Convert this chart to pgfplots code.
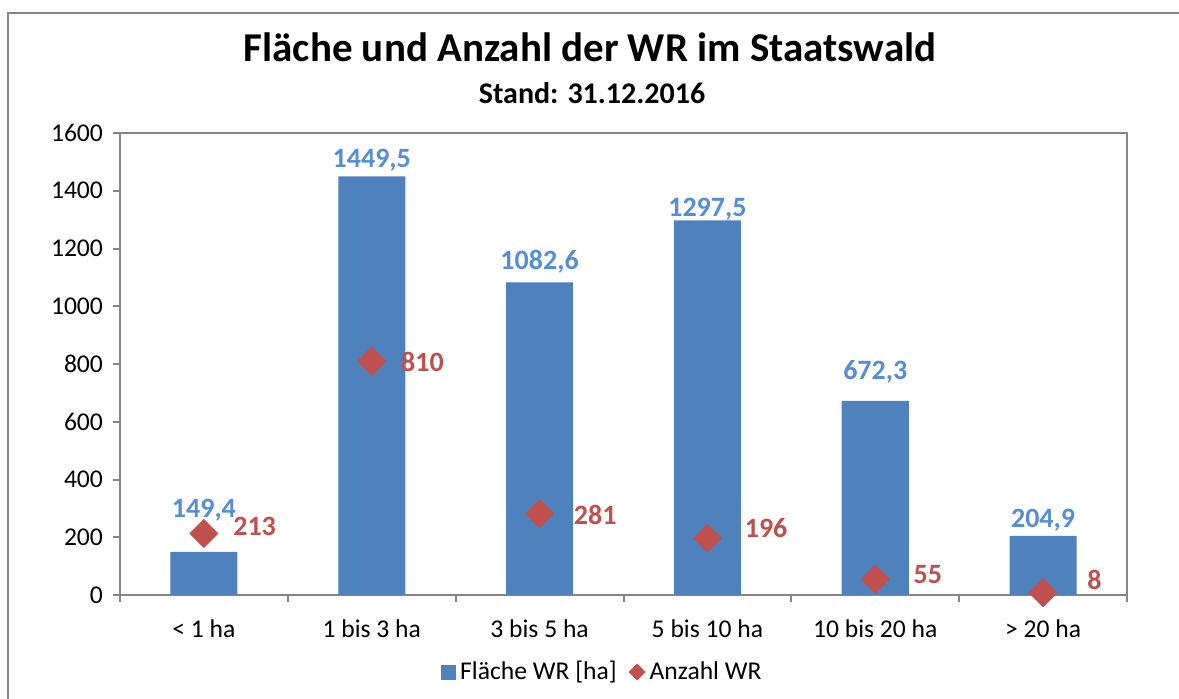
\documentclass[border=0pt]{standalone}
\usepackage{pgfplots}
\pgfplotsset{compat=1.18}
\usepackage{pgfplotstable}
\usepackage{fontspec}
\setmainfont{Carlito}
\definecolor{barblue}{HTML}{4F81BD}
\definecolor{labblue}{HTML}{558ED5}
\definecolor{diared}{HTML}{C0504D}
\definecolor{axgray}{HTML}{868686}
\pgfplotstableread{
x area arealab ady count cdx cdy
0 149.4 149,4 17 213 14.5 -1
1 1449.5 1449,5 4.5 810 14.5 -5
2 1082.6 1082,6 6.5 281 17 -5.5
3 1297.5 1297,5 2 196 18.5 0.5
4 672.3 672,3 10.5 55 19 -2
5 204.9 204,9 4 8 22 1.5
}\datatable
\begin{document}
\begin{tikzpicture}
\useasboundingbox (0,0) rectangle (589.5pt,349pt);
\begin{scope}
\clip (0,0) rectangle (589.5pt,349pt);
\draw[axgray, line width=1pt] (4pt,-20pt) rectangle (640pt,342.5pt);
\end{scope}
\node[anchor=base, inner sep=0pt, font=\fontsize{20.5}{24}\selectfont\bfseries] at (295pt,318pt) {Fläche und Anzahl der WR im Staatswald};
\node[anchor=base, inner sep=0pt, font=\fontsize{15}{18}\selectfont\bfseries] at (296pt,297.5pt) {Stand: 31.12.2016};
\begin{axis}[
  at={(60pt,51.5pt)}, anchor=south west, scale only axis,
  width=503.5pt, height=231pt,
  xmin=-0.5, xmax=5.5, ymin=0, ymax=1600,
  ytick={0,200,400,600,800,1000,1200,1400,1600},
  yticklabels={0,200,400,600,800,1000,1200,1400,1600},
  xtick={-0.5,0.5,1.5,2.5,3.5,4.5,5.5},
  x tick label as interval,
  xticklabels={{< 1 ha},{1 bis 3 ha},{3 bis 5 ha},{5 bis 10 ha},{10 bis 20 ha},{> 20 ha}},
  tick align=outside,
  tick pos=left,
  major tick length=3.5pt,
  tick style={axgray, line width=1pt},
  axis line style={axgray, line width=1pt},
  ticklabel style={font=\fontsize{12.8}{15}\selectfont},
  xticklabel style={yshift=-5.5pt},
  yticklabel style={xshift=-1.5pt},
  clip=false,
  legend columns=2,
  legend style={at={(axis description cs:0.48,-0.1667)}, anchor=center, draw=none, fill=none,
    font=\fontsize{12.8}{15}\selectfont, /tikz/every even column/.append style={column sep=4pt}},
]
\addplot[ybar, bar width=33.5pt, fill=barblue, draw=none,
  nodes near coords, point meta=explicit symbolic,
  visualization depends on={\thisrow{ady} \as \ady},
  nodes near coords style={anchor=base, yshift=\ady*1pt, text=labblue, font=\fontsize{14}{16}\selectfont\bfseries, inner sep=0pt},
  legend image code/.code={\fill[barblue] (0pt,-3.75pt) rectangle (7.5pt,3.75pt);}]
  table[x=x, y=area, meta=arealab] {\datatable};
\addplot[color=diared, only marks, mark=square*, mark size=4.95pt, mark options={rotate=45, fill=diared, draw=none},
  nodes near coords, point meta=explicit symbolic,
  visualization depends on={\thisrow{cdx} \as \cdx},
  visualization depends on={\thisrow{cdy} \as \cdy},
  nodes near coords style={anchor=base west, xshift=\cdx*1pt, yshift=\cdy*1pt, text=diared, font=\fontsize{14}{16}\selectfont\bfseries, inner sep=0pt},
  legend image code/.code={\fill[diared] (4pt,0pt) +(0,4pt) -- +(4pt,0) -- +(0,-4pt) -- +(-4pt,0) -- cycle;}]
  table[x=x, y=count, meta=count] {\datatable};
\legend{{Fläche WR [ha]},{Anzahl WR}}
\end{axis}
\end{tikzpicture}
\end{document}
